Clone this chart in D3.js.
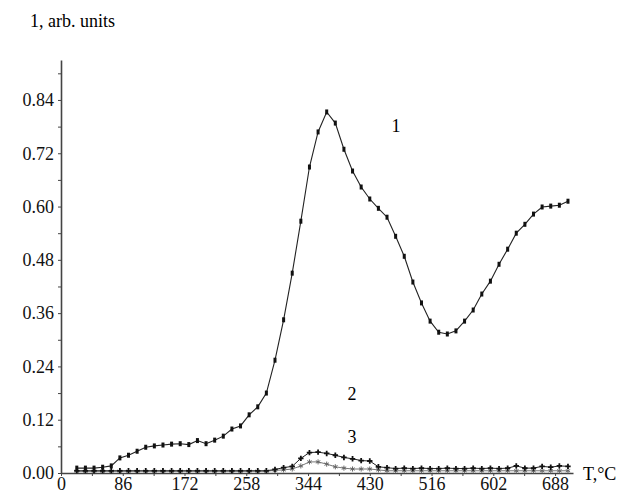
<!DOCTYPE html>
<html>
<head>
<meta charset="utf-8">
<script src="https://cdn.jsdelivr.net/npm/d3@7"></script>
<style>
  body { margin: 0; background: #fff; }
  svg text { font-family: "Liberation Serif", Tinos, "Times New Roman", Times, "DejaVu Serif", serif; }
</style>
</head>
<body>
<div id="chart"></div>
<script>
var temps = [22, 34, 46, 58, 70, 82, 94, 106, 118, 130, 142, 154, 166, 178, 190, 202, 214, 226, 238, 250,
             262, 274, 286, 298, 310, 322, 334, 346, 358, 370, 382, 394, 406, 418, 430, 442, 454, 466, 478, 490,
             502, 514, 526, 538, 550, 562, 574, 586, 598, 610, 622, 634, 646, 658, 670, 682, 694, 706];

var curve1 = [0.011, 0.011, 0.011, 0.013, 0.016, 0.034, 0.040, 0.049, 0.058, 0.061,
              0.063, 0.065, 0.066, 0.064, 0.073, 0.066, 0.074, 0.083, 0.099, 0.106,
              0.131, 0.149, 0.180, 0.254, 0.345, 0.450, 0.567, 0.689, 0.768, 0.813,
              0.788, 0.729, 0.680, 0.644, 0.617, 0.596, 0.576, 0.533, 0.488, 0.430,
              0.383, 0.342, 0.317, 0.313, 0.320, 0.342, 0.367, 0.403, 0.432, 0.470,
              0.504, 0.540, 0.560, 0.583, 0.599, 0.601, 0.603, 0.612];

var curve2 = [0.005, 0.005, 0.005, 0.005, 0.005, 0.005, 0.005, 0.005, 0.005, 0.005,
              0.005, 0.005, 0.005, 0.005, 0.005, 0.005, 0.005, 0.005, 0.005, 0.005,
              0.005, 0.005, 0.005, 0.008, 0.012, 0.015, 0.033, 0.046, 0.047, 0.044,
              0.040, 0.035, 0.032, 0.028, 0.027, 0.014, 0.012, 0.010, 0.011, 0.010,
              0.011, 0.010, 0.010, 0.011, 0.010, 0.010, 0.011, 0.010, 0.011, 0.010,
              0.011, 0.016, 0.011, 0.011, 0.015, 0.013, 0.016, 0.015];

var curve3 = [0.004, 0.004, 0.004, 0.004, 0.004, 0.004, 0.004, 0.004, 0.004, 0.004,
              0.004, 0.004, 0.004, 0.004, 0.004, 0.004, 0.004, 0.004, 0.004, 0.004,
              0.004, 0.004, 0.004, 0.006, 0.007, 0.009, 0.016, 0.025, 0.025, 0.020,
              0.014, 0.011, 0.009, 0.009, 0.009, 0.007, 0.005, 0.005, 0.005, 0.005,
              0.005, 0.005, 0.005, 0.005, 0.005, 0.005, 0.005, 0.005, 0.005, 0.005,
              0.005, 0.005, 0.005, 0.005, 0.005, 0.005, 0.005, 0.005];

var yTicks = [0, 0.06, 0.12, 0.18, 0.24, 0.30, 0.36, 0.42, 0.48, 0.54, 0.60, 0.66, 0.72, 0.78, 0.84, 0.90];
var xTicks = [0, 43, 86, 129, 172, 215, 258, 301, 344, 387, 430, 473, 516, 559, 602, 645, 688];

var width = 623, height = 496,
    serif = "'Liberation Serif', Tinos, 'Times New Roman', Times, 'DejaVu Serif', serif";

var svg = d3.select("#chart").append("svg")
    .attr("width", width)
    .attr("height", height)
    .attr("font-family", serif);

var x = d3.scaleLinear().domain([0, 713]).range([61, 573]),
    y = d3.scaleLinear().domain([0, 0.93]).range([473, 60]);

// axes
svg.append("g")
    .attr("transform", "translate(61,0)")
    .call(d3.axisLeft(y).tickValues(yTicks).tickSizeInner(3).tickSizeOuter(0).tickPadding(4)
      .tickFormat(function(d) { return Math.round(d * 100) % 12 === 0 ? d3.format(".2f")(d) : ""; }))
    .attr("font-family", serif);

svg.append("g")
    .attr("transform", "translate(0,473)")
    .call(d3.axisBottom(x).tickValues(xTicks).tickSizeInner(3).tickSizeOuter(0).tickPadding(1)
      .tickFormat(function(d) { return d % 86 === 0 ? d : ""; }))
    .attr("font-family", serif);

svg.selectAll(".domain").attr("stroke", "#444").attr("stroke-width", 1.6);
svg.selectAll(".tick line").attr("stroke", "#444");
svg.selectAll(".tick text").attr("font-size", 18).attr("fill", "#111");

svg.append("text").text("1, arb. units")
    .attr("x", 30).attr("y", 27).attr("font-size", 18);
svg.append("text").text("T,°C")
    .attr("x", 583).attr("y", 480).attr("font-size", 18);

// curves
var line = function(vals) {
  return d3.line()
    .x(function(d, i) { return x(temps[i]); })
    .y(function(d) { return y(d); })(vals);
};

svg.append("path").attr("d", line(curve3))
    .attr("fill", "none").attr("stroke", "#777").attr("stroke-width", 1);
svg.append("path").attr("d", line(curve2))
    .attr("fill", "none").attr("stroke", "#222").attr("stroke-width", 1);
svg.append("path").attr("d", line(curve1))
    .attr("fill", "none").attr("stroke", "#222").attr("stroke-width", 1.1);

svg.selectAll(".m3").data(curve3).enter().append("path")
    .attr("class", "m3")
    .attr("d", d3.symbol().type(d3.symbolAsterisk).size(18))
    .attr("transform", function(d, i) { return "translate(" + x(temps[i]) + "," + y(d) + ")"; })
    .attr("fill", "none").attr("stroke", "#666").attr("stroke-width", 1);

svg.selectAll(".m2").data(curve2).enter().append("path")
    .attr("class", "m2")
    .attr("d", d3.symbol().type(d3.symbolCross).size(16))
    .attr("transform", function(d, i) { return "translate(" + x(temps[i]) + "," + y(d) + ")"; })
    .attr("fill", "#111");

svg.selectAll(".m1").data(curve1).enter().append("rect")
    .attr("class", "m1")
    .attr("x", function(d, i) { return x(temps[i]) - 1.5; })
    .attr("y", function(d) { return y(d) - 2.5; })
    .attr("width", 3)
    .attr("height", 5)
    .attr("fill", "#111");

// curve labels
svg.append("text").text("1").attr("x", 396).attr("y", 132).attr("font-size", 18).attr("text-anchor", "middle");
svg.append("text").text("2").attr("x", 352).attr("y", 400).attr("font-size", 18).attr("text-anchor", "middle");
svg.append("text").text("3").attr("x", 352).attr("y", 443).attr("font-size", 18).attr("text-anchor", "middle");
</script>
</body>
</html>
